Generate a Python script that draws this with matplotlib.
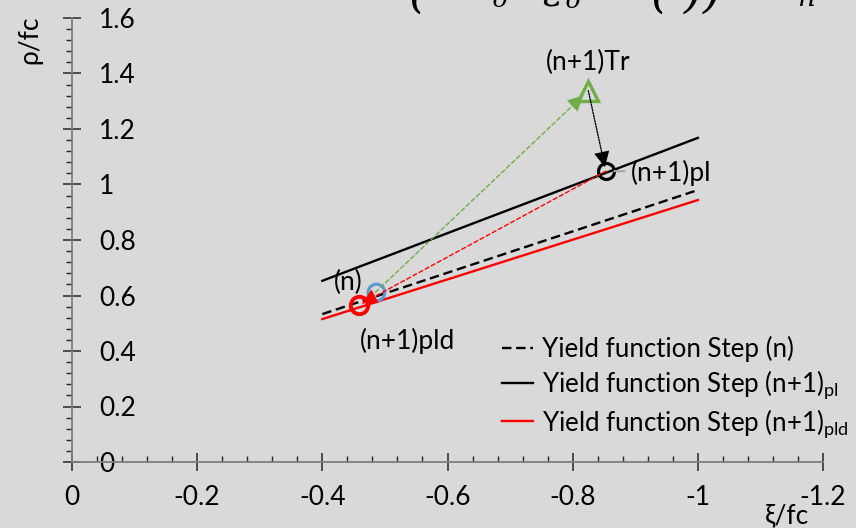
import matplotlib
matplotlib.use('Agg')
import matplotlib.pyplot as plt
from matplotlib.ticker import MultipleLocator, FuncFormatter

plt.rcParams['font.family'] = ['Lato', 'DejaVu Sans']
plt.rcParams['mathtext.fontset'] = 'custom'
plt.rcParams['mathtext.rm'] = 'Lato'
plt.rcParams['axes.unicode_minus'] = False

# yield functions, given at both ends of the plotted xi range
xi_ends = [-0.4, -1.0]
rho_step_n = [0.533, 0.980]
rho_step_pl = [0.653, 1.168]
rho_step_pld = [0.515, 0.944]

# stress states (xi/fc, rho/fc)
pt_n = (-0.485, 0.612)
pt_tr = (-0.825, 1.338)
pt_pl = (-0.853, 1.048)
pt_pld = (-0.459, 0.566)

legend_labels = ['Yield function Step (n)',
                 'Yield function Step (n+1)$_{\\mathrm{pl}}$',
                 'Yield function Step (n+1)$_{\\mathrm{pld}}$']

BG = '#d9d9d9'
GREEN = '#70ad47'
BLUE = '#5b9bd5'
RED = '#ff0000'
FS = 19

fig = plt.figure(figsize=(8.56, 5.28), dpi=100, facecolor=BG)
ax = fig.add_axes([72 / 856, 66 / 528, 751 / 856, 444 / 528])
ax.set_facecolor(BG)

ax.plot(xi_ends, rho_step_n, color='black', lw=1.7, dashes=(4, 2), label=legend_labels[0])
ax.plot(xi_ends, rho_step_pl, color='black', lw=1.7, label=legend_labels[1])
ax.plot(xi_ends, rho_step_pld, color=RED, lw=1.7, label=legend_labels[2])


def arrow(p0, p1, color, ls, lw, shrink_b):
    # shaft and filled head drawn separately so the head stays solid
    ax.annotate('', xy=p1, xytext=p0,
                arrowprops=dict(arrowstyle='-', color=color, lw=lw, ls=ls,
                                shrinkA=0, shrinkB=shrink_b + 4))
    ax.annotate('', xy=p1, xytext=p0,
                arrowprops=dict(arrowstyle='-|>,head_length=0.5,head_width=0.25',
                                color=color, lw=0, shrinkA=0, shrinkB=shrink_b,
                                mutation_scale=22))


arrow(pt_n, pt_tr, GREEN, (0, (3, 2)), 1.0, 5)
arrow(pt_tr, pt_pl, 'black', (0, (1, 1)), 1.0, 3)
arrow(pt_pl, pt_pld, RED, (0, (3, 2)), 1.0, 2)

# leader from the (n+1)pl point to its label
ax.annotate('', xy=(pt_pl[0] - 0.03, pt_pl[1]), xytext=pt_pl,
            arrowprops=dict(arrowstyle='-', color='#a6a6a6', lw=1.5, shrinkA=6, shrinkB=0))

ax.plot(*pt_n, marker='o', ms=12, mfc='none', mec=BLUE, mew=2.3)
ax.plot(*pt_pld, marker='o', ms=12.5, mfc='none', mec=RED, mew=2.8)
ax.plot(*pt_pl, marker='o', ms=11.5, mfc='none', mec='black', mew=2.3)
ax.plot(*pt_tr, marker='^', ms=14, mfc='none', mec=GREEN, mew=2.4)

ax.annotate('(n)', xy=pt_n, xytext=(-20, 7), textcoords='offset points',
            fontsize=FS, ha='center', va='center')
ax.annotate('(n+1)pld', xy=pt_pld, xytext=(35, -26), textcoords='offset points',
            fontsize=FS, ha='center', va='center')
ax.annotate('(n+1)Tr', xy=pt_tr, xytext=(0, 20), textcoords='offset points',
            fontsize=FS, ha='center', va='center')
ax.annotate('(n+1)pl', xy=pt_pl, xytext=(18, -1), textcoords='offset points',
            fontsize=FS, ha='left', va='center')

ax.set_xlim(0, -1.2)
ax.set_ylim(0, 1.6)
ax.xaxis.set_major_locator(MultipleLocator(0.2))
ax.xaxis.set_minor_locator(MultipleLocator(0.04))
ax.yaxis.set_major_locator(MultipleLocator(0.2))
ax.yaxis.set_minor_locator(MultipleLocator(0.04))
fmt = FuncFormatter(lambda v, p: '{:g}'.format(round(v, 2)))
ax.xaxis.set_major_formatter(fmt)
ax.yaxis.set_major_formatter(fmt)

for s in ['top', 'right']:
    ax.spines[s].set_visible(False)
for s in ['left', 'bottom']:
    ax.spines[s].set_color('#7f7f7f')
    ax.spines[s].set_linewidth(1.3)

ax.tick_params(axis='x', which='major', direction='inout', length=13, width=1.1,
               color='#262626', labelsize=FS, pad=10)
ax.tick_params(axis='x', which='minor', direction='in', length=4.5, width=1.0, color='#262626')
ax.tick_params(axis='y', which='major', direction='inout', length=13, width=1.1,
               color='#262626', labelsize=FS, pad=-26)
ax.tick_params(axis='y', which='minor', direction='out', length=4.5, width=1.0, color='#262626')
for t in ax.get_yticklabels():
    t.set_horizontalalignment('left')

ax.set_xlabel('ξ/fc', fontsize=FS)
ax.xaxis.set_label_coords(0.952, -0.093)
ax.set_ylabel('ρ/fc', fontsize=FS)
ax.yaxis.set_label_coords(-0.040, 0.95)

leg = ax.legend(loc='upper left', bbox_to_anchor=(0.572, 0.283), frameon=False, fontsize=FS,
                handlelength=1.2, handletextpad=0.35, labelspacing=0.22, borderpad=0,
                borderaxespad=0)
for t in leg.get_texts():
    t.set_fontsize(18.6)

# lower edge of the evolution equation set above the plot
eq_parts = [('(', 418, 7, 34), ('δ', 500, 7, 18), ('ε', 552, 5, 26), ('δ', 573, 8, 18),
            ('(', 660, 7, 34), (')', 693, 7, 34), (')', 712, 7, 34), ('n', 806, 6, 20)]
for s, x, y, size in eq_parts:
    fig.text(x / 856, 1 - y / 528, s, fontsize=size, family='DejaVu Serif', style='italic',
             ha='center', va='baseline')

fig.savefig('out.png', dpi=100, facecolor=BG)
